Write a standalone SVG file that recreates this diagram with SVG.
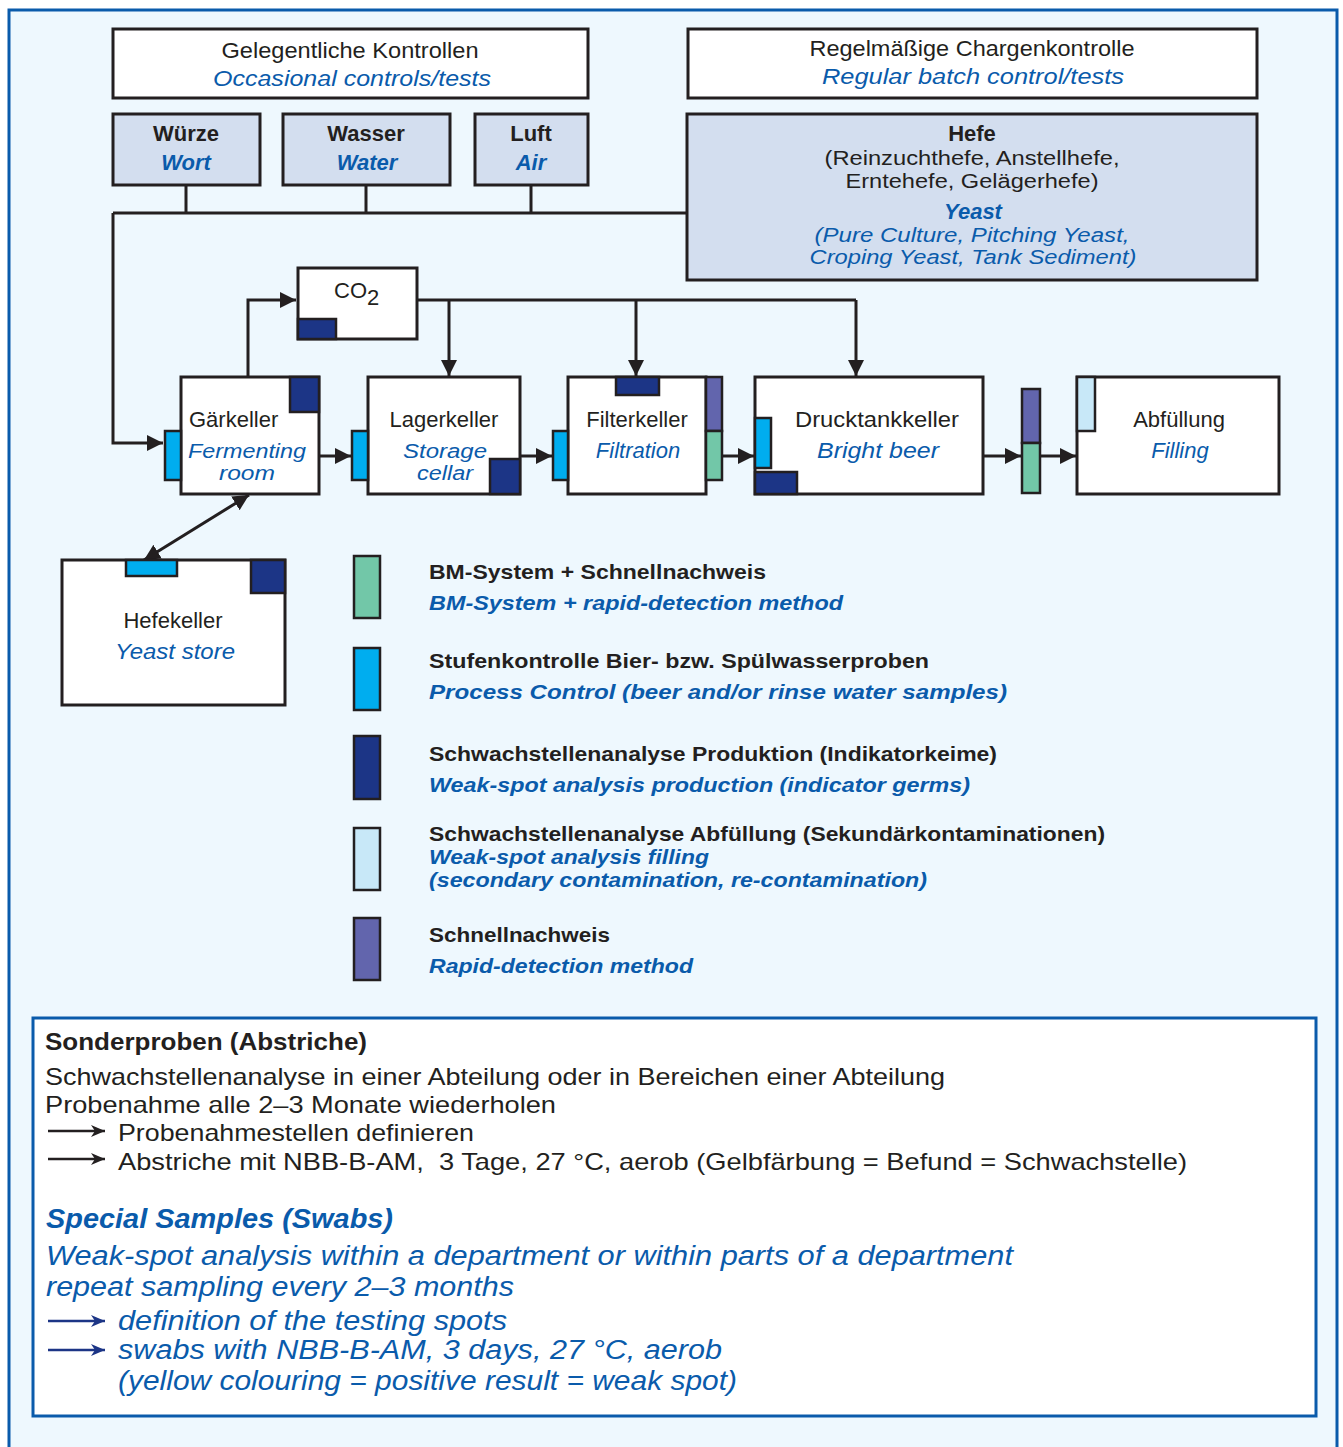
<svg xmlns="http://www.w3.org/2000/svg" width="1343" height="1447" viewBox="0 0 1343 1447">
<defs>
<style>
.bg{fill:#eef8fe}
.box{fill:#fff;stroke:#231f20;stroke-width:3}
.sbox{fill:#d3deef;stroke:#231f20;stroke-width:3}
.mk{stroke:#231f20;stroke-width:2.5}
.dk{fill:#1c3586}.cy{fill:#00adef}.gr{fill:#72c7a8}.pu{fill:#6265ad}.lb{fill:#c8e8f8}
.ln{fill:none;stroke:#231f20;stroke-width:3}
text{font-family:"Liberation Sans",Arial,sans-serif;fill:#231f20}
.t{font-size:22px}
.s{font-size:20px}
.b{font-weight:bold}
.i{font-style:italic;fill:#0a5bab}
.c{text-anchor:middle}
.lg{font-size:21px;font-weight:bold}
.bt{font-size:24px}
.bi{font-size:27px;font-style:italic;fill:#0a5bab}
</style>
<marker id="ah" viewBox="0 0 16 16" refX="16" refY="8" markerWidth="16" markerHeight="16" markerUnits="userSpaceOnUse" orient="auto-start-reverse"><path d="M0,0L16,8L0,16Z" fill="#231f20"/></marker>
<marker id="sa" viewBox="0 0 14 12" refX="14" refY="6" markerWidth="14" markerHeight="12" markerUnits="userSpaceOnUse" orient="auto"><path d="M0,0L14,6L0,12L4,6Z" fill="#231f20"/></marker>
<marker id="sb" viewBox="0 0 14 12" refX="14" refY="6" markerWidth="14" markerHeight="12" markerUnits="userSpaceOnUse" orient="auto"><path d="M0,0L14,6L0,12L4,6Z" fill="#1c3586"/></marker>
</defs>
<rect x="0" y="0" width="1343" height="1447" fill="#fff"/>
<rect x="9" y="10" width="1328" height="1450" class="bg" stroke="#0a5bab" stroke-width="3"/>

<g id="connectors">
<path class="ln" d="M113,213H687M186,185V213M366,185V213M531,185V213"/>
<path class="ln" d="M113,213V443H163" marker-end="url(#ah)"/>
<path class="ln" d="M248,377V300H296" marker-end="url(#ah)"/>
<path class="ln" d="M417,300H856"/>
<path class="ln" d="M449,300V376" marker-end="url(#ah)"/>
<path class="ln" d="M636,300V376" marker-end="url(#ah)"/>
<path class="ln" d="M856,300V376" marker-end="url(#ah)"/>
<path class="ln" d="M319,456H351" marker-end="url(#ah)"/>
<path class="ln" d="M520,456H552" marker-end="url(#ah)"/>
<path class="ln" d="M722,456H754" marker-end="url(#ah)"/>
<path class="ln" d="M983,456H1021" marker-end="url(#ah)"/>
<path class="ln" d="M1040,456H1076" marker-end="url(#ah)"/>
<path class="ln" d="M249,495L144,560" marker-start="url(#ah)" marker-end="url(#ah)"/>
</g>

<g id="occasional">
<rect class="box" x="113" y="29" width="475" height="69"/>
<text class="t c" x="350" y="58" font-size="21" textLength="257" lengthAdjust="spacingAndGlyphs">Gelegentliche Kontrollen</text>
<text class="t c i" x="352" y="86" font-size="21" textLength="278" lengthAdjust="spacingAndGlyphs">Occasional controls/tests</text>
</g>
<g id="regular">
<rect class="box" x="688" y="29" width="569" height="69"/>
<text class="t c" x="972" y="56" font-size="21" textLength="325" lengthAdjust="spacingAndGlyphs">Regelmäßige Chargenkontrolle</text>
<text class="t c i" x="973" y="84" font-size="21" textLength="302" lengthAdjust="spacingAndGlyphs">Regular batch control/tests</text>
</g>
<g id="wuerze">
<rect class="sbox" x="113" y="114" width="147" height="71"/>
<text class="t c b" x="186" y="141">Würze</text>
<text class="t c b i" x="186" y="170">Wort</text>
</g>
<g id="wasser">
<rect class="sbox" x="283" y="114" width="167" height="71"/>
<text class="t c b" x="366" y="141">Wasser</text>
<text class="t c b i" x="367" y="170">Water</text>
</g>
<g id="luft">
<rect class="sbox" x="475" y="114" width="113" height="71"/>
<text class="t c b" x="531" y="141">Luft</text>
<text class="t c b i" x="531" y="170">Air</text>
</g>
<g id="hefe">
<rect class="sbox" x="687" y="114" width="570" height="166"/>
<text class="t c b" x="972" y="141">Hefe</text>
<text class="s c" x="972" y="165" textLength="295" lengthAdjust="spacingAndGlyphs">(Reinzuchthefe, Anstellhefe,</text>
<text class="s c" x="972" y="188" textLength="253" lengthAdjust="spacingAndGlyphs">Erntehefe, Gelägerhefe)</text>
<text class="t c b i" x="973" y="219">Yeast</text>
<text class="s c i" x="972" y="242" textLength="315" lengthAdjust="spacingAndGlyphs">(Pure Culture, Pitching Yeast,</text>
<text class="s c i" x="973" y="264" textLength="327" lengthAdjust="spacingAndGlyphs">Croping Yeast, Tank Sediment)</text>
</g>
<g id="co2">
<rect class="box" x="298" y="268" width="119" height="71"/>
<rect class="mk dk" x="298" y="319" width="38" height="20"/>
<text class="t" x="334" y="298">CO<tspan font-size="22" dy="7">2</tspan></text>
</g>
<g id="gaerkeller">
<rect class="box" x="181" y="377" width="138" height="117"/>
<rect class="mk dk" x="290" y="377" width="29" height="35"/>
<rect class="mk cy" x="165" y="431" width="16" height="49"/>
<text class="t" x="189" y="427">Gärkeller</text>
<text class="s i c" x="247" y="458" textLength="118" lengthAdjust="spacingAndGlyphs">Fermenting</text>
<text class="s i c" x="247" y="480" textLength="56" lengthAdjust="spacingAndGlyphs">room</text>
</g>
<g id="lagerkeller">
<rect class="box" x="368" y="377" width="152" height="117"/>
<rect class="mk cy" x="352" y="431" width="16" height="49"/>
<rect class="mk dk" x="490" y="459" width="30" height="35"/>
<text class="t c" x="444" y="427">Lagerkeller</text>
<text class="s i c" x="445" y="458" textLength="84" lengthAdjust="spacingAndGlyphs">Storage</text>
<text class="s i c" x="445" y="480" textLength="56" lengthAdjust="spacingAndGlyphs">cellar</text>
</g>
<g id="filterkeller">
<rect class="box" x="568" y="377" width="138" height="117"/>
<rect class="mk dk" x="616" y="377" width="43" height="18"/>
<rect class="mk cy" x="553" y="431" width="15" height="49"/>
<rect class="mk pu" x="706" y="377" width="16" height="54"/>
<rect class="mk gr" x="706" y="431" width="16" height="49"/>
<text class="t c" x="637" y="427">Filterkeller</text>
<text class="t i c" x="638" y="458">Filtration</text>
</g>
<g id="drucktankkeller">
<rect class="box" x="755" y="377" width="228" height="117"/>
<rect class="mk cy" x="755" y="418" width="16" height="50"/>
<rect class="mk dk" x="755" y="472" width="42" height="22"/>
<text class="t c" x="877" y="427" textLength="164" lengthAdjust="spacingAndGlyphs">Drucktankkeller</text>
<text class="t i c" x="878" y="458" textLength="122" lengthAdjust="spacingAndGlyphs">Bright beer</text>
</g>
<g id="filler-markers">
<rect class="mk pu" x="1022" y="389" width="18" height="54"/>
<rect class="mk gr" x="1022" y="443" width="18" height="50"/>
</g>
<g id="abfuellung">
<rect class="box" x="1077" y="377" width="202" height="117"/>
<rect class="mk lb" x="1077" y="377" width="18" height="54"/>
<text class="t c" x="1179" y="427">Abfüllung</text>
<text class="t i c" x="1180" y="458">Filling</text>
</g>
<g id="hefekeller">
<rect class="box" x="62" y="560" width="223" height="145"/>
<rect class="mk cy" x="126" y="560" width="51" height="16"/>
<rect class="mk dk" x="251" y="560" width="34" height="33"/>
<text class="t c" x="173" y="628">Hefekeller</text>
<text class="t i c" x="175" y="659" textLength="120" lengthAdjust="spacingAndGlyphs">Yeast store</text>
</g>

<g id="legend">
<rect class="mk gr" x="354" y="556" width="26" height="62"/>
<text class="lg" x="429" y="579" textLength="337" lengthAdjust="spacingAndGlyphs">BM-System + Schnellnachweis</text>
<text class="lg i" x="429" y="610" textLength="414" lengthAdjust="spacingAndGlyphs">BM-System + rapid-detection method</text>
<rect class="mk cy" x="354" y="648" width="26" height="62"/>
<text class="lg" x="429" y="668" textLength="500" lengthAdjust="spacingAndGlyphs">Stufenkontrolle Bier- bzw. Spülwasserproben</text>
<text class="lg i" x="429" y="699" textLength="578" lengthAdjust="spacingAndGlyphs">Process Control (beer and/or rinse water samples)</text>
<rect class="mk dk" x="354" y="736" width="26" height="63"/>
<text class="lg" x="429" y="761" textLength="568" lengthAdjust="spacingAndGlyphs">Schwachstellenanalyse Produktion (Indikatorkeime)</text>
<text class="lg i" x="429" y="792" textLength="541" lengthAdjust="spacingAndGlyphs">Weak-spot analysis production (indicator germs)</text>
<rect class="mk lb" x="354" y="828" width="26" height="62"/>
<text class="lg" x="429" y="841" textLength="676" lengthAdjust="spacingAndGlyphs">Schwachstellenanalyse Abfüllung (Sekundärkontaminationen)</text>
<text class="lg i" x="429" y="864" textLength="280" lengthAdjust="spacingAndGlyphs">Weak-spot analysis filling</text>
<text class="lg i" x="429" y="887" textLength="498" lengthAdjust="spacingAndGlyphs">(secondary contamination, re-contamination)</text>
<rect class="mk pu" x="354" y="918" width="26" height="62"/>
<text class="lg" x="429" y="942" textLength="181" lengthAdjust="spacingAndGlyphs">Schnellnachweis</text>
<text class="lg i" x="429" y="973" textLength="264" lengthAdjust="spacingAndGlyphs">Rapid-detection method</text>
</g>

<g id="special-samples">
<rect x="33" y="1018" width="1283" height="398" fill="#fff" stroke="#0a5bab" stroke-width="3"/>
<text class="bt b" x="45" y="1050" textLength="322" lengthAdjust="spacingAndGlyphs">Sonderproben (Abstriche)</text>
<text class="bt" x="45" y="1085" textLength="900" lengthAdjust="spacingAndGlyphs">Schwachstellenanalyse in einer Abteilung oder in Bereichen einer Abteilung</text>
<text class="bt" x="45" y="1113" textLength="511" lengthAdjust="spacingAndGlyphs">Probenahme alle 2–3 Monate wiederholen</text>
<path d="M48,1131H105" stroke="#231f20" stroke-width="2.5" marker-end="url(#sa)"/>
<text class="bt" x="118" y="1141" textLength="356" lengthAdjust="spacingAndGlyphs">Probenahmestellen definieren</text>
<path d="M48,1159H105" stroke="#231f20" stroke-width="2.5" marker-end="url(#sa)"/>
<text class="bt" x="118" y="1170" textLength="1069" lengthAdjust="spacingAndGlyphs">Abstriche mit NBB-B-AM,&#160; 3 Tage, 27 °C, aerob (Gelbfärbung = Befund = Schwachstelle)</text>
<text class="bi b" x="46" y="1228" textLength="347" lengthAdjust="spacingAndGlyphs">Special Samples (Swabs)</text>
<text class="bi" x="46" y="1265" textLength="967" lengthAdjust="spacingAndGlyphs">Weak-spot analysis within a department or within parts of a department</text>
<text class="bi" x="46" y="1296" textLength="468" lengthAdjust="spacingAndGlyphs">repeat sampling every 2–3 months</text>
<path d="M48,1321H105" stroke="#1c3586" stroke-width="2.5" marker-end="url(#sb)"/>
<text class="bi" x="118" y="1330" textLength="389" lengthAdjust="spacingAndGlyphs">definition of the testing spots</text>
<path d="M48,1350H105" stroke="#1c3586" stroke-width="2.5" marker-end="url(#sb)"/>
<text class="bi" x="118" y="1359" textLength="604" lengthAdjust="spacingAndGlyphs">swabs with NBB-B-AM, 3 days, 27 °C, aerob</text>
<text class="bi" x="118" y="1390" textLength="619" lengthAdjust="spacingAndGlyphs">(yellow colouring = positive result = weak spot)</text>
</g>
</svg>
